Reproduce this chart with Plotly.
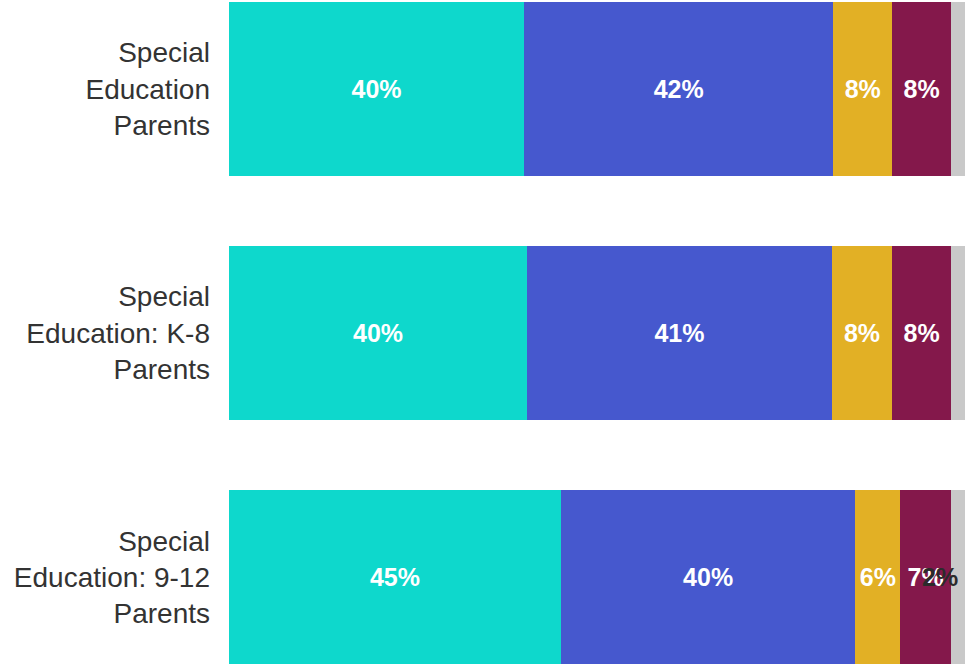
import plotly.graph_objects as go

categories = ["Special<br>Education<br>Parents",
              "Special<br>Education: K-8<br>Parents",
              "Special<br>Education: 9-12<br>Parents"]

series_names = ["S1", "S2", "S3", "S4", "S5"]
values = [
    [40.1, 40.5, 45.1],   # teal
    [42.0, 41.4, 40.0],   # blue
    [8.0, 8.2, 6.1],      # gold
    [8.0, 8.0, 6.9],      # maroon
    [1.9, 1.9, 1.9],      # grey
]
colors = ["#0ED8CC", "#4658CE", "#E2B025", "#84184B", "#C9C9C9"]
# which grey labels are shown (only the last row shows its label in the reference)
grey_label_shown = [False, False, True]

fig = go.Figure()
for i, name in enumerate(series_names[:-1]):
    txt = [f"{v:.0f}%" for v in values[i]]
    fig.add_trace(go.Bar(
        y=categories, x=values[i], name=name, orientation="h",
        marker=dict(color=colors[i], line=dict(width=0)),
        text=txt, textposition="inside", insidetextanchor="middle",
        constraintext="none",
        textfont=dict(family="Liberation Sans, Arial", size=25,
                      color="white", weight="bold"),
        hoverinfo="skip",
    ))

fig.add_trace(go.Bar(
    y=categories, x=values[-1], name=series_names[-1], orientation="h",
    marker=dict(color=colors[-1], line=dict(width=0)),
    hoverinfo="skip",
))

# grey labels: right-aligned at the end of the stack
totals = [sum(col) for col in zip(*values)]
for cat, tot, v, shown in zip(categories, totals, values[-1], grey_label_shown):
    if shown:
        fig.add_annotation(
            x=tot, y=cat, xref="x", yref="y", text=f"{v:.0f}%",
            xanchor="right", yanchor="middle", xshift=-5, showarrow=False,
            font=dict(family="Liberation Sans, Arial", size=25,
                      color="#2B2B2B", weight="bold"),
        )

fig.update_layout(
    barmode="stack",
    width=965, height=665,
    margin=dict(l=229, r=0, t=0, b=0),
    plot_bgcolor="white", paper_bgcolor="white",
    showlegend=False,
    bargap=0.288,
    font=dict(family="Liberation Sans, Arial", color="#333333"),
)
fig.update_xaxes(range=[0, 100], visible=False, showgrid=False)
fig.update_yaxes(range=[2.36, -0.364], showgrid=False, zeroline=False,
                 ticks="", ticklabelstandoff=18,
                 tickfont=dict(size=28, color="#333333",
                               family="Liberation Sans, Arial"))

fig.write_html("out.html", config={"displayModeBar": False},
               post_script="document.body.style.margin='0';document.body.style.overflow='hidden';")
